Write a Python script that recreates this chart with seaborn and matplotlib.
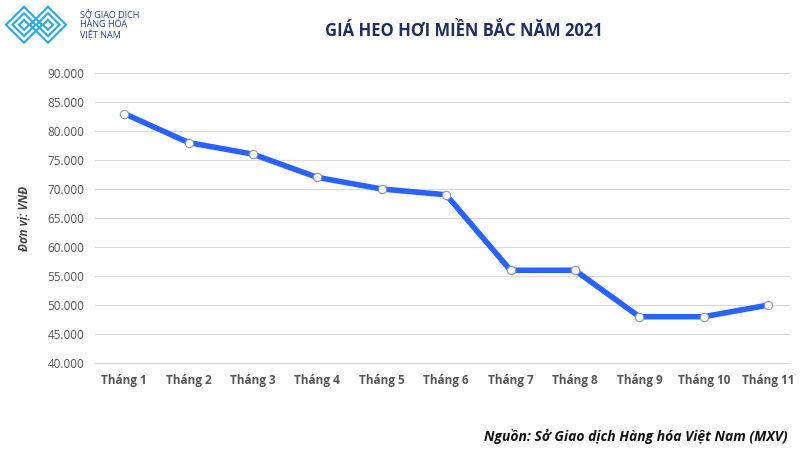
import matplotlib
matplotlib.use("Agg")
import matplotlib.pyplot as plt
import seaborn as sns
import pandas as pd
from matplotlib.patches import Polygon

months = ["Tháng 1", "Tháng 2", "Tháng 3", "Tháng 4", "Tháng 5", "Tháng 6",
          "Tháng 7", "Tháng 8", "Tháng 9", "Tháng 10", "Tháng 11"]
prices = [83000, 78000, 76000, 72000, 70000, 69000, 56000, 56000, 48000, 48000, 50000]
y_ticks = list(range(40000, 90001, 5000))

plt.rcParams["font.family"] = "Open Sans"
df = pd.DataFrame({"month": months, "price": prices, "pos": range(len(months))})

fig = plt.figure(figsize=(8, 4.5), dpi=100)
ax = fig.add_axes([0.119, 0.193, 0.8685, 0.645])
sns.lineplot(data=df, x="pos", y="price", ax=ax, color="#2962FF", linewidth=4,
             marker="o", markersize=6, markerfacecolor="white", markeredgecolor="#8a9bbf",
             markeredgewidth=0.8)
ax.set_xlim(-0.45, 10.34)
ax.set_ylim(40000, 90000)
ax.set_yticks(y_ticks)
ax.set_yticklabels([f"{v:,}".replace(",", ".") for v in y_ticks], fontsize=8.5, color="#555555")
ax.set_xticks(df["pos"])
ax.set_xticklabels(months, fontsize=8.5, color="#555555", fontweight="bold")
ax.grid(axis="y", color="#d9d9d9", linewidth=0.8)
ax.set_axisbelow(True)
for s in ax.spines.values():
    s.set_visible(False)
ax.spines["bottom"].set_visible(True)
ax.spines["bottom"].set_color("#d9d9d9")
ax.tick_params(length=0, pad=8)
ax.set_xlabel("")
ax.set_ylabel("Đơn vị: VNĐ", fontsize=8.5, fontstyle="italic", fontweight="bold", color="#444444", labelpad=12)

fig.text(0.58, 0.93, "GIÁ HEO HƠI MIỀN BẮC NĂM 2021", ha="center", va="center",
         fontsize=12, fontweight="bold", color="#1f2f5f")
fig.text(0.985, 0.03, "Nguồn: Sở Giao dịch Hàng hóa Việt Nam (MXV)", ha="right", va="center",
         fontsize=10, fontstyle="italic", fontweight="bold", color="#111111")

# simple logo
for cx in (0.03, 0.06):
    for r in (0.025, 0.016, 0.007):
        pts = [(cx, 0.945 + r * 1.6), (cx + r * 0.9, 0.945), (cx, 0.945 - r * 1.6), (cx - r * 0.9, 0.945)]
        fig.patches.append(Polygon(pts, closed=True, fill=False, edgecolor="#2aa9e0",
                                   linewidth=1.5, transform=fig.transFigure))
fig.text(0.1, 0.945, "SỞ GIAO DỊCH\nHÀNG HÓA\nVIỆT NAM", ha="left", va="center",
         fontsize=6.5, color="#1f3f8f", linespacing=1.0)

fig.savefig("out.png", dpi=100)
